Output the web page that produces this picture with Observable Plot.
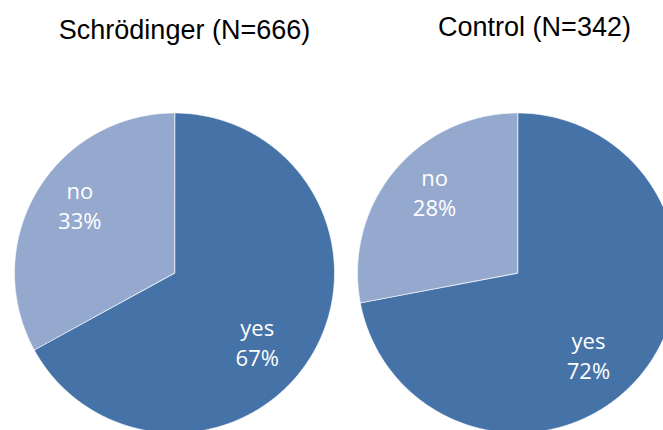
<!DOCTYPE html>
<html>
<head>
<meta charset="utf-8">
<script src="https://cdn.jsdelivr.net/npm/d3@7"></script>
<script src="https://cdn.jsdelivr.net/npm/@observablehq/plot@0.6"></script>
<style>
  html, body { margin: 0; padding: 0; background: #fff; }
  #chart svg { display: block; }
</style>
</head>
<body>
<div id="chart"></div>
<script>
// ---- data ----
const groups = ["Schrödinger (N=666)", "Control (N=342)"];
const categories = ["yes", "no"];
const yesPct = [67, 72];
const noPct = [33, 28];
const colors = ["#4572a7", "#95a9cf"];

// ---- layout ----
const W = 663, H = 430;
const R = 160;                 // pie radius in px
const centerPx = [174, 517];   // pie centre x in px
const centerYPx = 272.5;       // pie centre y in px
const titleX = [184, 534];
const titleBaseline = [38, 35];
const labelAngleShift = 7;     // degrees, label rotation offset
const labelRadius = 0.70;

// one scale unit = one pie radius
const cxUnit = centerPx.map(p => (p - centerPx[0]) / R);

const slices = [];
const labels = [];
groups.forEach((g, gi) => {
  const vals = [yesPct[gi], noPct[gi]];
  const total = d3.sum(vals);
  let acc = 0;
  categories.forEach((c, ci) => {
    const a0 = acc / total * 360;
    const a1 = (acc + vals[ci]) / total * 360;
    acc += vals[ci];
    const key = g + "|" + c;
    slices.push({key, cat: c, x: cxUnit[gi], y: 0});
    const steps = Math.max(2, Math.ceil((a1 - a0) / 0.5));
    for (let k = 0; k <= steps; k++) {
      const t = (a0 + (a1 - a0) * k / steps) * Math.PI / 180;
      slices.push({key, cat: c, x: cxUnit[gi] + Math.sin(t), y: Math.cos(t)});
    }
    const m = ((a0 + a1) / 2 + labelAngleShift) * Math.PI / 180;
    labels.push({
      x: cxUnit[gi] + labelRadius * Math.sin(m),
      y: labelRadius * Math.cos(m),
      text: c + "\n" + vals[ci] + "%"
    });
  });
});

const marks = [
  Plot.line(slices, {
    x: "x", y: "y", z: "key", fill: "cat",
    stroke: "white", strokeWidth: 0.8, strokeOpacity: 0.8, curve: "linear-closed"
  }),
  Plot.text(labels, {
    x: "x", y: "y", text: "text", fill: "white", dx: -6,
    fontSize: 22, fontFamily: "Open Sans", lineHeight: 1.36
  })
];
groups.forEach((g, gi) => {
  marks.push(Plot.text([g], {
    x: () => cxUnit[gi] + (titleX[gi] - centerPx[gi]) / R,
    frameAnchor: "top", lineAnchor: "bottom", dy: titleBaseline[gi],
    text: d => d, fill: "black",
    fontSize: 27, fontFamily: "Liberation Sans, Arial, sans-serif"
  }));
});

const chart = Plot.plot({
  width: W, height: H,
  marginTop: 0, marginRight: 0, marginBottom: 0, marginLeft: 0,
  x: {domain: [-centerPx[0] / R, (W - centerPx[0]) / R], axis: null},
  y: {domain: [-(H - centerYPx) / R, centerYPx / R], axis: null},
  color: {domain: categories, range: colors},
  style: {background: "white", overflow: "hidden"},
  marks
});
document.getElementById("chart").appendChild(chart);
</script>
</body>
</html>
